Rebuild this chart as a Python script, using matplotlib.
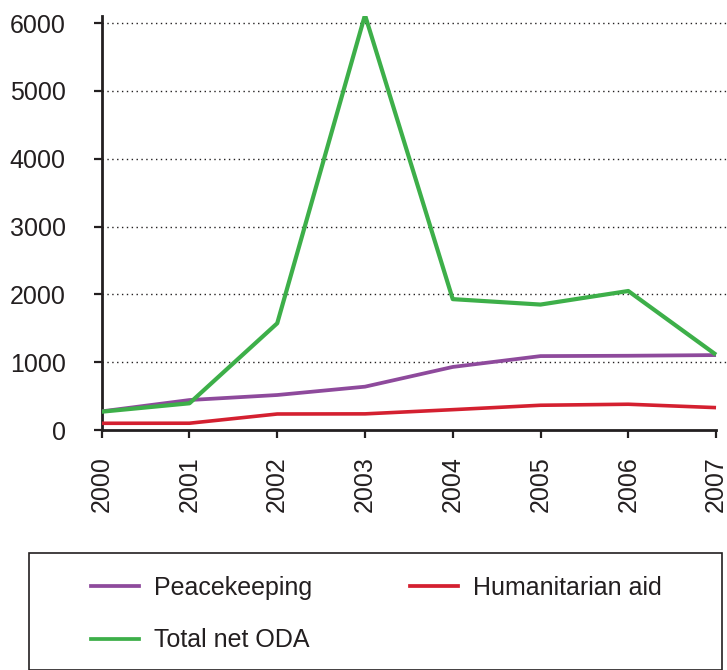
import matplotlib
matplotlib.use("Agg")
import matplotlib.pyplot as plt
from matplotlib.lines import Line2D
from matplotlib.patches import Rectangle

years = [2000, 2001, 2002, 2003, 2004, 2005, 2006, 2007]
peacekeeping = [275, 442, 516, 639, 930, 1090, 1095, 1105]
humanitarian = [99, 100, 236, 238, 300, 365, 380, 330]
total_oda = [270, 394, 1574, 6120, 1930, 1850, 2050, 1110]
yticks = [0, 1000, 2000, 3000, 4000, 5000, 6000]

c_peace = "#8e4a9c"
c_hum = "#d42030"
c_oda = "#3daf49"
ink = "#231f20"

plt.rcParams['font.family'] = ['Liberation Sans', 'DejaVu Sans']

W, H = 727, 670
fig = plt.figure(figsize=(W / 100, H / 100), dpi=100)
left = 101.7 / W
bottom = 1 - 430 / H
top = 1 - 16.4 / H
ax = fig.add_axes([left, bottom, 1 - left, top - bottom])

ax.plot(years, humanitarian, color=c_hum, lw=2.6, solid_capstyle='butt', zorder=3)
ax.plot(years, peacekeeping, color=c_peace, lw=2.7, solid_capstyle='butt', zorder=3)
ax.plot(years, total_oda, color=c_oda, lw=3.0, solid_capstyle='butt', zorder=4)

ax.set_xlim(2000, 2007.125)
ax.set_ylim(0, 6100)
ax.set_yticks(yticks)
ax.set_xticks(years)
ax.set_xticklabels([str(y) for y in years], rotation=90, va='top', ha='center')

for v in yticks[1:]:
    ax.axhline(v, color=ink, lw=1.0, ls=(0, (1, 2.5)), zorder=1)

for s in ['top', 'right']:
    ax.spines[s].set_visible(False)
for s in ['left', 'bottom']:
    ax.spines[s].set_color(ink)
    ax.spines[s].set_linewidth(2.0)
ax.spines['bottom'].set_bounds(2000, 2007)
ax.spines['left'].set_bounds(0, 6100)

ax.tick_params(axis='y', direction='out', length=5.8, width=1.6, color=ink,
               pad=20, labelsize=18, labelcolor=ink)
ax.tick_params(axis='x', direction='out', length=6.0, width=1.6, color=ink,
               pad=13, labelsize=18, labelcolor=ink)

# legend box
fig.patches.append(Rectangle((29 / W, 0), (722 - 29) / W, 1 - 553 / H,
                             transform=fig.transFigure, fill=False,
                             edgecolor=ink, lw=1.2))

handles = [Line2D([0], [0], color=c_peace, lw=2.7),
           Line2D([0], [0], color=c_oda, lw=2.7),
           Line2D([0], [0], color=c_hum, lw=2.7)]
labels = ["Peacekeeping", "Total net ODA", "Humanitarian aid"]
leg = fig.legend(handles + [Line2D([], [], alpha=0)], labels + [""], ncol=2,
                 loc='upper left', bbox_to_anchor=(91 / W, 1 - 576 / H),
                 frameon=False, fontsize=18, handlelength=1.92,
                 handletextpad=0.6, columnspacing=3.9, labelspacing=1.13,
                 borderaxespad=0, borderpad=0)
for t in leg.get_texts():
    t.set_color(ink)

fig.savefig("out.png", dpi=100)
